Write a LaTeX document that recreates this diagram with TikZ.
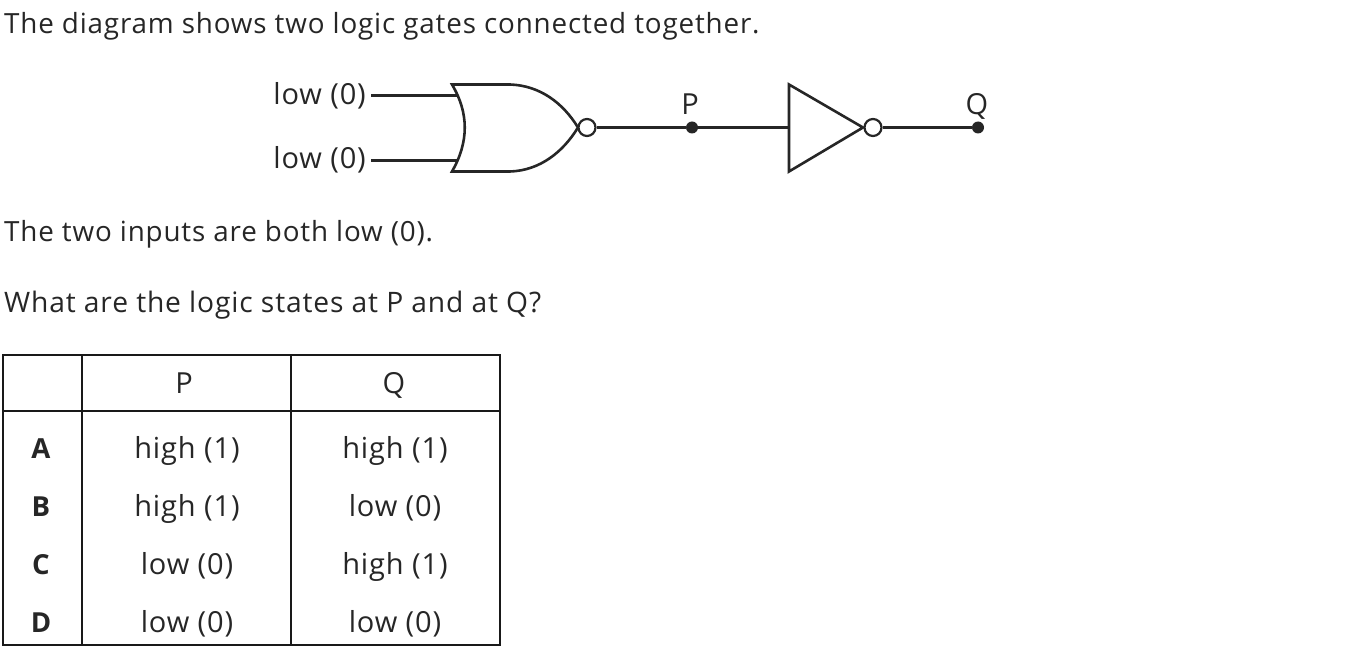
\documentclass[tikz,border=0pt]{standalone}
\usepackage{fontspec}
\setmainfont[LetterSpace=3]{Open Sans}
\tikzset{
    wire/.style = {line width=2.8pt, draw=black!85},
    gate/.style = {line width=2.6pt, draw=black!85, line join=miter},
    bubble/.style = {circle, draw=black!85, line width=2.2pt, fill=white, minimum size=17pt, inner sep=0pt},
    probe/.style = {circle, fill=black!85, minimum size=12pt, inner sep=0pt},
    prose/.style = {anchor=base west, inner sep=0pt, font=\fontsize{27.8}{32}\selectfont, text=black!85},
    label/.style = {anchor=base, inner sep=0pt, font=\fontsize{29}{32}\selectfont, text=black!85},
    rowname/.style = {label, font=\fontsize{27.6}{32}\selectfont\bfseries},
    rule/.style = {line width=2pt, draw=black!90}
}
\begin{document}
\begin{tikzpicture}[x=1pt, y=-1pt]
    \useasboundingbox (0,0) rectangle (1355,655);

    \node[prose] (intro) at (4,34) {The diagram shows two logic gates connected together.};
    \node[prose] (inputs) at (4,242) {The two inputs are both low (0).};
    \node[prose, font=\fontsize{28.2}{32}\selectfont] (question) at (4,312) {What are the logic states at P and at Q?};

    % gates
    \draw[gate] (452,84.5) -- (510,84.5) .. controls (540,85.5) and (563,103) .. (578,127.5)
        .. controls (563,152) and (540,170.5) .. (510,171.5) -- (452,171.5)
        .. controls (469,142) and (469,113) .. cycle;
    \draw[gate] (789,84.5) -- (863,127.5) -- (789,171.5) -- cycle;
    \node[bubble] (norout) at (587,127.5) {};
    \node[bubble] (notout) at (873,127.5) {};
    \node[probe] (P) at (692,127.5) {};
    \node[probe] (Q) at (978,127.5) {};
    \coordinate (a) at (457,95.5);
    \coordinate (b) at (457,160.5);
    \coordinate (notin) at (789,127.5);

    \node[label, anchor=base east] (lowa) at (366,105) {low (0)};
    \node[label, anchor=base east] (lowb) at (366,169) {low (0)};
    \node[label] (Plabel) at (690,115) {P};
    \node[label] (Qlabel) at (977,115) {Q};

    \draw[wire] (371,95.5) coordinate (astart) -- (a);
    \draw[wire] (371,160.5) coordinate (bstart) -- (b);
    \draw[wire] (norout) -- (P);
    \draw[wire] (P) -- (notin);
    \draw[wire] (notout) -- (Q);

    % table
    \draw[rule] (3,354.5) rectangle (500,645);
    \draw[rule] (3,411) -- (500,411);
    \draw[rule] (82,354.5) -- (82,645);
    \draw[rule] (291,354.5) -- (291,645);

    \node[label] (headP) at (184,393) {P};
    \node[label] (headQ) at (394,393) {Q};
    \foreach \row/\ypos/\pval/\qval in {A/458.5/high (1)/high (1), B/516.5/high (1)/low (0), C/574.5/low (0)/high (1), D/632.5/low (0)/low (0)} {
        \node[rowname] (name\row) at (41,\ypos) {\row};
        \node[label] (p\row) at (187,\ypos) {\pval};
        \node[label] (q\row) at (395,\ypos) {\qval};
    }
\end{tikzpicture}
\end{document}
